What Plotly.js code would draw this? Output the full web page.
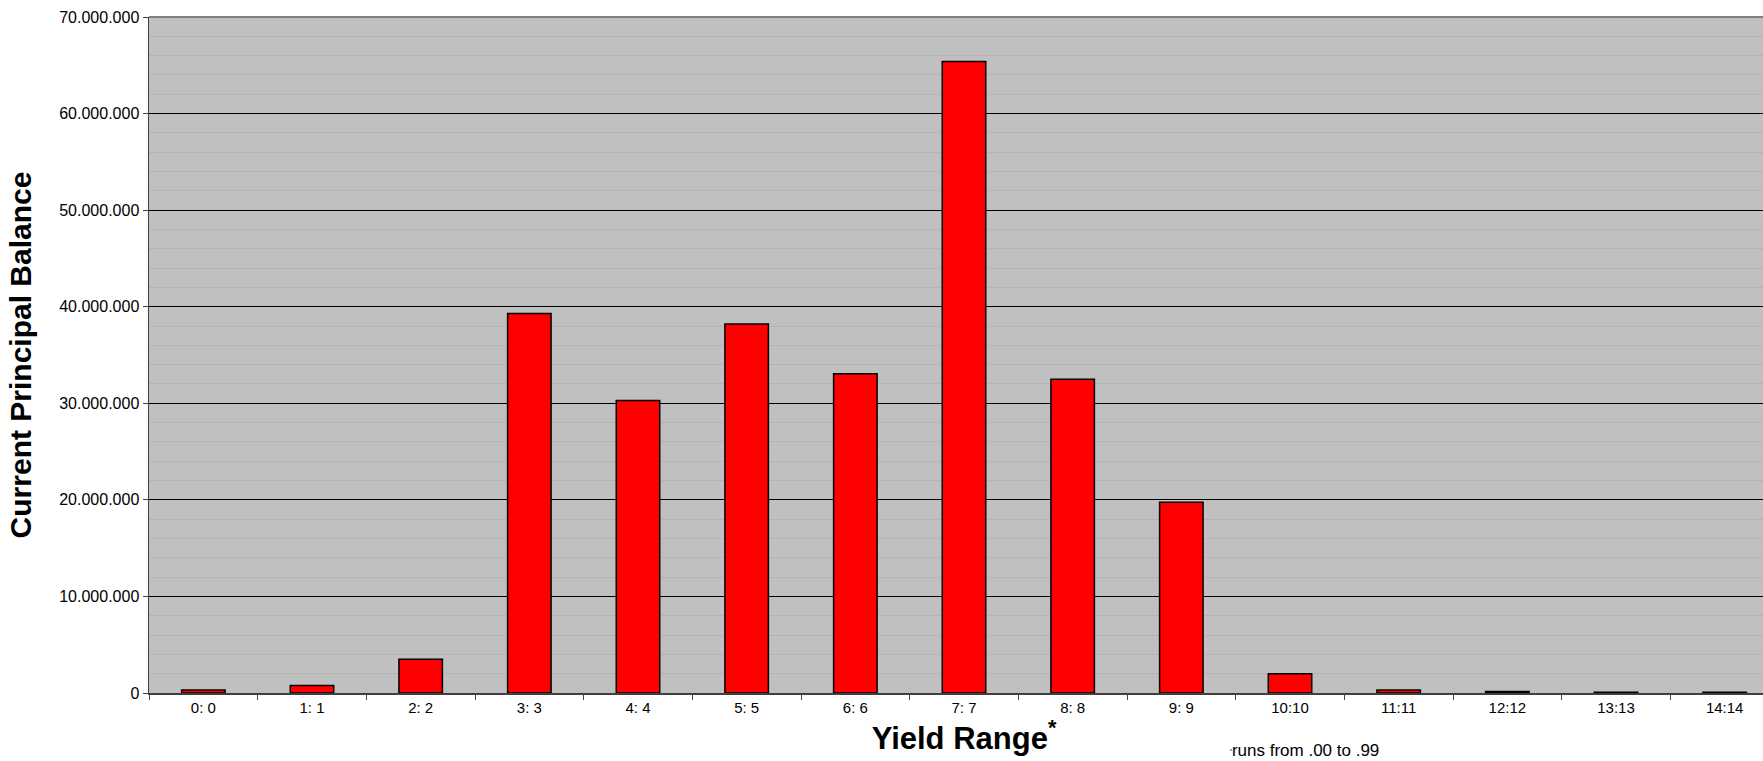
<!DOCTYPE html>
<html>
<head>
<meta charset="utf-8">
<script src="https://cdn.plot.ly/plotly-3.0.1.min.js"></script>
<style>
  html, body { margin: 0; padding: 0; overflow: hidden; background: #ffffff; }
  #chart { width: 1779px; height: 761px; }
</style>
</head>
<body>
<div id="chart"></div>
<script>
// Yield buckets and the current principal balance in each
const yieldRanges = ["0: 0", "1: 1", "2: 2", "3: 3", "4: 4", "5: 5", "6: 6", "7: 7",
                     "8: 8", "9: 9", "10:10", "11:11", "12:12", "13:13", "14:14"];
const principalBalance = [300000, 780000, 3500000, 39300000, 30300000, 38200000, 33050000,
                          65400000, 32500000, 19750000, 2000000, 300000, 150000, 80000, 70000];

const yTickValues = [0, 10000000, 20000000, 30000000, 40000000, 50000000, 60000000, 70000000];

const bars = {
  type: "bar",
  x: yieldRanges,
  y: principalBalance,
  width: 0.4,
  marker: { color: "#FF0000", line: { color: "#000000", width: 1.5 } },
  hoverinfo: "x+y"
};

const layout = {
  width: 1779,
  height: 761,
  margin: { l: 149, r: 0, t: 17, b: 68 },
  paper_bgcolor: "#FFFFFF",
  plot_bgcolor: "#C0C0C0",
  separators: ",.",
  showlegend: false,
  font: { family: "Liberation Sans, Arial, sans-serif", color: "#000000" },
  xaxis: {
    type: "category",
    range: [-0.5, 14.5],
    showgrid: false,
    zeroline: false,
    showline: true,
    linecolor: "#404040",
    linewidth: 1.5,
    ticks: "outside",
    tickson: "boundaries",
    ticklen: 5,
    tickcolor: "#404040",
    tickfont: { size: 15 },
    automargin: false,
    title: {
      text: "<b>Yield Range<sup>*</sup></b>",
      font: { size: 31 },
      standoff: 1
    }
  },
  yaxis: {
    range: [0, 70000000],
    tickvals: yTickValues,
    tickformat: ",",
    showgrid: true,
    gridcolor: "#000000",
    gridwidth: 1,
    minor: { dtick: 2000000, showgrid: true, gridcolor: "#B4B4B4", gridwidth: 1 },
    zeroline: false,
    showline: true,
    linecolor: "#404040",
    linewidth: 1.5,
    ticks: "outside",
    ticklen: 5,
    tickcolor: "#404040",
    tickfont: { size: 16 },
    automargin: false,
    title: {
      text: "<b>Current Principal Balance</b>",
      font: { size: 30 },
      standoff: 18
    }
  },
  shapes: [
    { type: "line", xref: "paper", yref: "paper", x0: 0, x1: 1, y0: 1, y1: 1,
      line: { color: "#808080", width: 2 } }
  ],
  annotations: [
    {
      xref: "paper", yref: "paper", x: 0.662, y: 0, yshift: -57,
      xanchor: "left", yanchor: "middle", showarrow: false,
      text: "<span style='font-size:7px'><sup>*</sup></span>runs from .00 to .99",
      font: { size: 17, color: "#000000" }
    }
  ]
};

Plotly.newPlot("chart", [bars], layout, { displayModeBar: false, staticPlot: true });
</script>
</body>
</html>
